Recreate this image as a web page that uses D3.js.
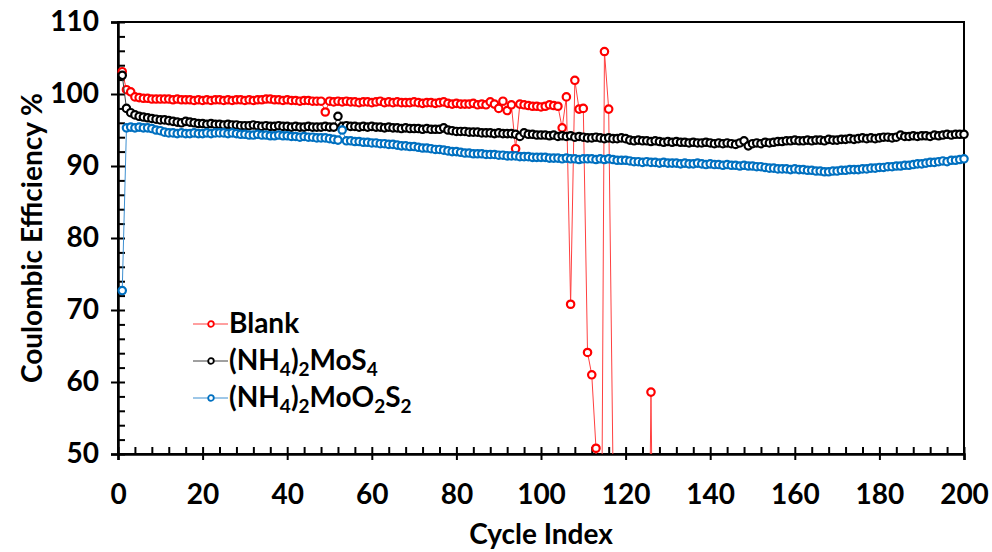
<!DOCTYPE html>
<html>
<head>
<meta charset="utf-8">
<script src="https://cdn.jsdelivr.net/npm/d3@7"></script>
<style>
  body { margin: 0; background: #fff; }
  svg { display: block; font-family: Lato, "Open Sans", sans-serif; font-weight: 700; }
</style>
</head>
<body>
<div id="viz"></div>
<script>
// Coulombic efficiency (%) per cycle, cycle 1 onwards
const blank = [
  103.1, 100.6, 100.3, 99.6, 99.5, 99.4, 99.4, 99.3, 99.3, 99.3,
  99.3, 99.3, 99.2, 99.3, 99.2, 99.2, 99.2, 99.1, 99.2, 99.1,
  99.2, 99.1, 99.2, 99.2, 99.1, 99.2, 99.1, 99.2, 99.2, 99.1,
  99.2, 99.1, 99.2, 99.2, 99.3, 99.3, 99.2, 99.2, 99.1, 99.2,
  99.1, 99.1, 99.0, 99.1, 99.1, 99.0, 99.0, 99.0, 97.5, 99.0,
  98.9, 99.0, 98.9, 99.0, 98.9, 98.9, 98.8, 98.9, 98.9, 98.8,
  98.9, 99.0, 98.8, 98.9, 98.8, 98.9, 98.8, 98.8, 98.8, 98.9,
  98.8, 98.7, 98.8, 98.8, 98.7, 98.8, 98.9, 98.7, 98.6, 98.7,
  98.6, 98.6, 98.6, 98.7, 98.5, 98.6, 98.5, 98.9, 98.6, 98.0,
  99.0, 97.7, 98.5, 92.4, 98.6, 98.5, 98.4, 98.3, 98.3, 98.2,
  98.3, 98.5, 98.4, 98.3, 95.3, 99.6, 70.8, 101.9, 97.9, 98.0,
  64.1, 61.0, 50.8, 3.0, 105.9, 97.9, 49.0, 5.0, 4.0, 6.0,
  5.0, 4.0, 6.0, 5.0, 2.0, 58.6, 3.0
]
const mos4 = [
  102.6, 98.0, 97.4, 97.1, 96.9, 96.8, 96.7, 96.6, 96.5, 96.4,
  96.4, 96.3, 96.2, 96.1, 96.0, 96.2, 96.1, 96.0, 95.9, 95.9,
  95.8, 95.9, 95.8, 95.8, 95.7, 95.8, 95.7, 95.7, 95.6, 95.6,
  95.6, 95.7, 95.6, 95.5, 95.6, 95.5, 95.5, 95.6, 95.5, 95.5,
  95.4, 95.5, 95.4, 95.4, 95.5, 95.4, 95.4, 95.4, 95.5, 95.4,
  95.4, 96.9, 95.5, 95.6, 95.5, 95.5, 95.4, 95.5, 95.4, 95.5,
  95.4, 95.4, 95.3, 95.4, 95.3, 95.3, 95.2, 95.3, 95.2, 95.2,
  95.2, 95.1, 95.2, 95.1, 95.1, 95.1, 95.3, 95.0, 94.9, 94.8,
  94.8, 94.8, 94.7, 94.7, 94.7, 94.6, 94.6, 94.6, 94.5, 94.6,
  94.5, 94.5, 94.5, 94.4, 94.1, 94.6, 94.4, 94.4, 94.3, 94.3,
  94.3, 94.2, 94.3, 94.1, 94.2, 94.1, 94.2, 94.0, 94.1, 94.0,
  93.9, 93.9, 94.0, 93.9, 93.8, 93.9, 93.8, 93.8, 93.9, 93.8,
  93.6, 93.5, 93.6, 93.5, 93.5, 93.4, 93.5, 93.4, 93.3, 93.4,
  93.3, 93.4, 93.3, 93.3, 93.2, 93.3, 93.2, 93.2, 93.3, 93.2,
  93.1, 93.2, 93.1, 93.2, 93.1, 93.0, 93.2, 93.5, 92.8, 93.1,
  93.2, 93.1, 93.3, 93.2, 93.3, 93.4, 93.4, 93.5, 93.5, 93.6,
  93.5, 93.5, 93.6, 93.5, 93.6, 93.6, 93.5, 93.7, 93.6, 93.6,
  93.7, 93.7, 93.8, 93.7, 93.8, 93.9, 93.8, 93.9, 93.8, 93.9,
  94.0, 94.0, 93.9, 94.0, 94.3, 94.1, 94.1, 94.2, 94.1, 94.2,
  94.2, 94.1, 94.3, 94.2, 94.3, 94.4, 94.3, 94.4, 94.4, 94.4
]
const moo2s2 = [
  72.7, 95.3, 95.4, 95.3, 95.4, 95.3, 95.3, 95.2, 95.0, 94.9,
  94.7, 94.6, 94.6, 94.5, 94.6, 94.5, 94.5, 94.6, 94.5, 94.5,
  94.6, 94.5, 94.6, 94.6, 94.6, 94.5, 94.6, 94.5, 94.4, 94.4,
  94.3, 94.3, 94.4, 94.3, 94.3, 94.2, 94.2, 94.3, 94.2, 94.2,
  94.1, 94.1, 94.0, 94.1, 94.0, 94.0, 93.9, 93.9, 93.9, 93.8,
  93.7, 93.6, 95.0, 93.5, 93.5, 93.4, 93.4, 93.3, 93.3, 93.2,
  93.2, 93.1, 93.1, 93.0, 93.0, 92.9, 92.8, 92.8, 92.7, 92.7,
  92.6, 92.5, 92.5, 92.4, 92.3, 92.3, 92.2, 92.1, 92.0, 92.0,
  91.9, 91.8, 91.8, 91.7, 91.7, 91.7, 91.6, 91.6, 91.6, 91.5,
  91.5, 91.4, 91.4, 91.4, 91.3, 91.3, 91.3, 91.2, 91.2, 91.2,
  91.2, 91.1, 91.1, 91.1, 91.0, 91.1, 91.0, 91.0, 90.9, 91.0,
  91.0, 91.0, 90.9, 91.0, 90.9, 91.0, 90.9, 90.8, 90.8, 90.8,
  90.7, 90.6, 90.6, 90.5, 90.6, 90.5, 90.5, 90.4, 90.5, 90.4,
  90.4, 90.4, 90.3, 90.4, 90.3, 90.3, 90.4, 90.3, 90.2, 90.3,
  90.2, 90.2, 90.1, 90.2, 90.1, 90.1, 90.0, 90.1, 90.0, 90.0,
  89.9, 89.9, 89.8, 89.7, 89.7, 89.6, 89.6, 89.6, 89.5, 89.6,
  89.5, 89.5, 89.4, 89.4, 89.3, 89.3, 89.2, 89.2, 89.3, 89.3,
  89.4, 89.4, 89.5, 89.5, 89.5, 89.6, 89.6, 89.7, 89.7, 89.8,
  89.8, 89.9, 89.9, 90.0, 90.0, 90.1, 90.1, 90.2, 90.3, 90.3,
  90.4, 90.5, 90.5, 90.6, 90.7, 90.6, 90.8, 90.8, 90.9, 91.0
]

const xTicks = [0, 20, 40, 60, 80, 100, 120, 140, 160, 180, 200]
const yTicks = [50, 60, 70, 80, 90, 100, 110]

const series = [
  { name: 'Blank', values: blank, color: '#ff0000', line: '#ff4040' },
  { name: 'MoS4', values: mos4, color: '#000000', line: '#404040' },
  { name: 'MoO2S2', values: moo2s2, color: '#0070c0', line: '#3d8fd0' }
]

const w = 992, h = 552
const margin = { top: 22, right: 28, bottom: 98, left: 118 }
const innerWidth = w - margin.left - margin.right
const innerHeight = h - margin.top - margin.bottom

const svg = d3.select('#viz')
  .append('svg')
  .attr('width', w)
  .attr('height', h)

const g = svg.append('g')
  .attr('transform', `translate(${margin.left}, ${margin.top})`)

const x = d3.scaleLinear().domain([0, 200]).range([0, innerWidth])
const y = d3.scaleLinear().domain([50, 110]).range([innerHeight, 0])

svg.append('defs').append('clipPath')
  .attr('id', 'plot-clip')
  .append('rect')
  .attr('width', innerWidth)
  .attr('height', innerHeight)

// frame
g.append('rect')
  .attr('width', innerWidth)
  .attr('height', innerHeight)
  .attr('fill', 'none')
  .attr('stroke', '#000')
  .attr('stroke-width', 2)

// y axis: labelled ticks outside, minor ticks inside
const yAxisG = g.append('g')
  .call(d3.axisLeft(y).tickValues(yTicks).tickSize(7).tickPadding(12))
yAxisG.select('.domain').attr('stroke-width', 2.5)
yAxisG.selectAll('line').attr('stroke-width', 2)
yAxisG.selectAll('text')
  .attr('font-size', 28)
  .attr('font-weight', 700)
  .attr('font-family', 'Lato, sans-serif')

const yMinor = g.append('g')
  .call(d3.axisRight(y).tickValues(d3.range(50, 111, 2)).tickSize(7))
yMinor.select('.domain').remove()
yMinor.selectAll('text').remove()
yMinor.selectAll('line').attr('stroke-width', 2)

// x axis
const xAxisG = g.append('g')
  .attr('transform', `translate(0, ${innerHeight})`)
  .call(d3.axisBottom(x).tickValues(xTicks).tickSize(6).tickPadding(24))
xAxisG.select('.domain').attr('stroke-width', 2.5)
xAxisG.selectAll('line').attr('stroke-width', 2)
xAxisG.selectAll('text')
  .attr('font-size', 28)
  .attr('font-weight', 700)
  .attr('font-family', 'Lato, sans-serif')

const xMinor = g.append('g')
  .attr('transform', `translate(0, ${innerHeight})`)
  .call(d3.axisTop(x).tickValues(d3.range(0, 201, 4)).tickSize(7))
xMinor.select('.domain').remove()
xMinor.selectAll('text').remove()
xMinor.selectAll('line').attr('stroke-width', 2)

// axis titles
svg.append('text')
  .attr('x', margin.left + innerWidth / 2)
  .attr('y', 544)
  .attr('text-anchor', 'middle')
  .attr('font-size', 28)
  .text('Cycle Index')

svg.append('text')
  .attr('transform', `translate(42, ${margin.top + innerHeight / 2}) rotate(-90)`)
  .attr('text-anchor', 'middle')
  .attr('font-size', 28)
  .text('Coulombic Efficiency %')

// series
const line = d3.line()
  .x((d, i) => x(i + 1))
  .y(d => y(d))

series.forEach(s => {
  const sg = g.append('g')
  sg.append('path')
    .datum(s.values)
    .attr('clip-path', 'url(#plot-clip)')
    .attr('fill', 'none')
    .attr('stroke', s.line)
    .attr('stroke-width', 1)
    .attr('d', line)

  const pts = s.values
    .map((v, i) => ({ c: i + 1, v }))
    .filter(d => d.v >= 50 && d.v <= 110)

  sg.selectAll('circle')
    .data(pts)
    .enter()
    .append('circle')
    .attr('cx', d => x(d.c))
    .attr('cy', d => y(d.v))
    .attr('r', 3.7)
    .attr('fill', '#fff')
    .attr('stroke', s.color)
    .attr('stroke-width', 2.2)
})

// legend
const legendLabels = [
  [['Blank', 0]],
  [['(NH', 0], ['4', 1], [')', 0], ['2', 1], ['MoS', 0], ['4', 1]],
  [['(NH', 0], ['4', 1], [')', 0], ['2', 1], ['MoO', 0], ['2', 1], ['S', 0], ['2', 1]]
]
const legendY = [324, 361, 398]

const legend = svg.append('g')
series.forEach((s, i) => {
  const row = legend.append('g').attr('transform', `translate(0, ${legendY[i]})`)
  row.append('line')
    .attr('x1', 193).attr('x2', 228)
    .attr('stroke', s.line)
    .attr('stroke-width', 1)
  row.append('circle')
    .attr('cx', 211).attr('r', 2.8)
    .attr('fill', '#fff')
    .attr('stroke', s.color)
    .attr('stroke-width', 1.8)
  const t = row.append('text')
    .attr('x', 229)
    .attr('y', 9)
    .attr('font-size', 28)
  legendLabels[i].forEach(([txt, sub]) => {
    t.append('tspan')
      .attr('font-size', sub ? 19 : 28)
      .attr('baseline-shift', sub ? '-6' : null)
      .text(txt)
  })
})
</script>
</body>
</html>
